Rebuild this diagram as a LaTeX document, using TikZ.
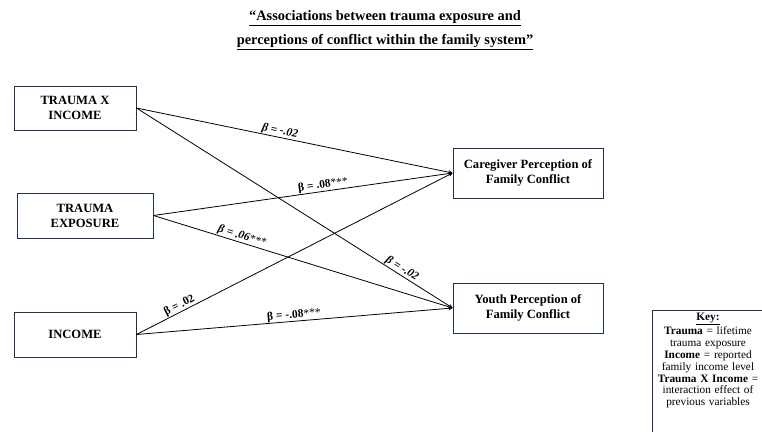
\documentclass[tikz,border=0pt]{standalone}
\usepackage{fontspec}
\setmainfont{Liberation Serif}
\usepackage[dvipsnames]{xcolor}
\definecolor{boxline}{HTML}{1F3350}

\begin{document}
\begin{tikzpicture}[x=1pt,y=-1pt,->,>=stealth,shorten >=0pt,
    var node/.style={draw=boxline,line width=0.9pt,align=center,inner sep=2pt,font=\fontsize{12.6}{15}\selectfont\bfseries},
    beta/.style={sloped,above,inner sep=0.5pt,font=\fontsize{11.5}{13}\selectfont\bfseries},
    ibeta/.style={beta,font=\fontsize{11.5}{13}\selectfont\bfseries\itshape}]
                        \useasboundingbox (0,0) rectangle (762,431);
                        \clip (0,0) rectangle (762,431);

                        \node[font=\fontsize{14.4}{24}\selectfont\bfseries,align=center] (title) at (385,30)
                            {\underline{“Associations between trauma exposure and}\\
                             \underline{perceptions of conflict within the family system”}};

                        \node[var node,minimum width=122pt,minimum height=44pt] (txi) at (75,108) {TRAUMA X\\INCOME};
                        \node[var node,minimum width=136pt,minimum height=45pt] (trauma) at (85,215.5) {TRAUMA\\EXPOSURE};
                        \node[var node,minimum width=122pt,minimum height=45pt] (income) at (75,334.5) {INCOME};
                        \node[var node,minimum width=150pt,minimum height=50pt] (care) at (528,173) {Caregiver Perception of\\Family Conflict};
                        \node[var node,minimum width=150pt,minimum height=50pt] (youth) at (528,308) {Youth Perception of\\Family Conflict};

                        % key, frame runs past the page edge
                        \node[anchor=north,text width=110pt,align=center,inner sep=0pt,
                              font=\fontsize{11.3}{11.9}\selectfont] (key) at (708,313)
                            {\textbf{\underline{Key:}}\\[0.5pt]
                             \textbf{Trauma} = lifetime\\trauma exposure\\
                             \textbf{Income} = reported\\family income level\\
                             \textbf{Trauma X Income} =\\interaction effect of\\previous variables};
                        \draw[-,draw=boxline,line width=0.9pt] (652,310) rectangle (775,445);

                        \path[line width=0.8pt]
                            (txi.east) edge node[ibeta,pos=0.45] {β = -.02} (care.west)
                            (trauma.east) edge node[beta,pos=0.57] {β = .08{\mdseries ***}} (care.west)
                            (trauma.east) edge node[ibeta,pos=0.29] {β = .06{\mdseries ***}} (youth.west)
                            (txi.east) edge node[ibeta,pos=0.83] {β = -.02} (youth.west)
                            (income.east) edge node[beta,pos=0.145] {β = .02} (care.west)
                            (income.east) edge node[beta,pos=0.5] {β = -.08{\mdseries ***}} (youth.west)
                        ;

                    \end{tikzpicture}
\end{document}
